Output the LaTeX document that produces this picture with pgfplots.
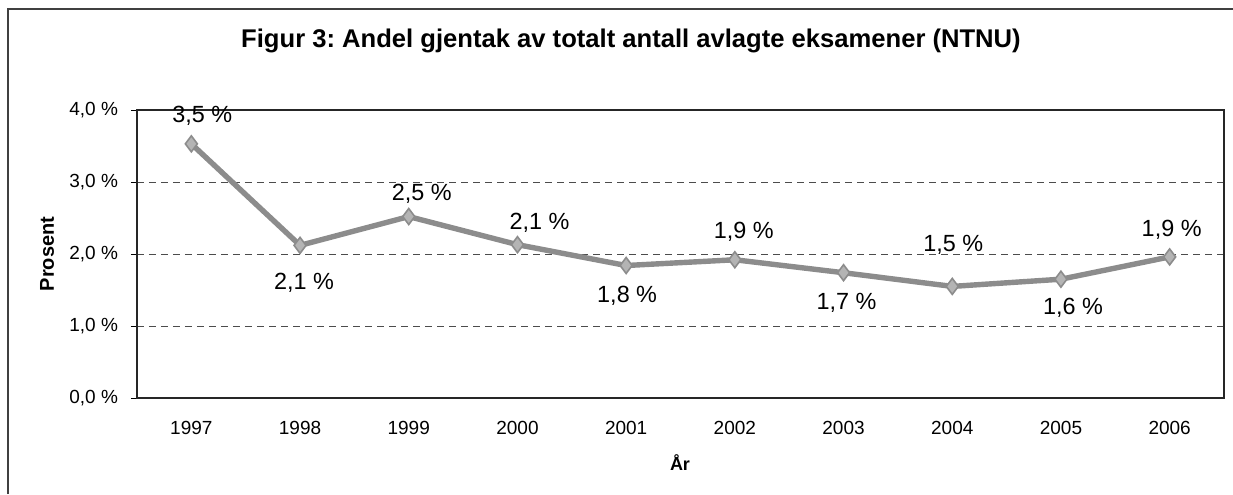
\documentclass[border=0pt]{standalone}
\usepackage{pgfplots}
\pgfplotsset{compat=1.18}
\usepackage{pgfplotstable}
\usepackage{fontspec}
\setmainfont{Liberation Sans}
\frenchspacing
\definecolor{linegray}{RGB}{140,140,140}
\definecolor{markgray}{RGB}{180,180,180}
\pgfplotstableread{
x y lbl dx dy
0 3.53 3,5 5.5 14
1 2.12 2,1 2 -18.5
2 2.52 2,5 6.5 11.5
3 2.13 2,1 11 11
4 1.84 1,8 0.5 -15
5 1.92 1,9 4.5 14
6 1.74 1,7 1.5 -15
7 1.55 1,5 0.5 21
8 1.65 1,6 6 -14.5
9 1.96 1,9 1 13.5
}\datatable
\begin{document}
\begin{tikzpicture}[x=1pt,y=1pt]
\path[use as bounding box] (0,0) rectangle (616.5,247);
\draw[black!75, line width=0.8pt] (4,0) -- (4,242.5) -- (616.5,242.5);
\begin{axis}[
  at={(68.5pt,48pt)}, anchor=south west,
  scale only axis, width=543.5pt, height=144pt,
  xmin=-0.5, xmax=9.5, ymin=0, ymax=4,
  xtick={0,...,9},
  xticklabels={1997,1998,1999,2000,2001,2002,2003,2004,2005,2006},
  major x tick style={draw=none},
  extra x ticks={0.5,1.5,2.5,3.5,4.5,5.5,6.5,7.5,8.5},
  extra x tick labels={},
  extra x tick style={major tick length=3pt, tick style={black, line width=0.5pt}, xtick pos=bottom, xtick align=outside, grid=none},
  ytick={0,1,2,3,4},
  yticklabels={{0,0 \%},{1,0 \%},{2,0 \%},{3,0 \%},{4,0 \%}},
  ytick pos=left, ytick align=outside, major tick length=3pt,
  ymajorgrids,
  grid style={black!70, line width=0.5pt, dash pattern=on 3.5pt off 2.5pt},
  axis line style={black!85, line width=0.6pt},
  tick style={black, line width=0.5pt},
  ticklabel style={font=\fontsize{9.5}{11}\selectfont},
  yticklabel style={xshift=-3pt},
  xticklabel style={yshift=-8pt},
  clip=false,
]
\addplot[color=linegray, line width=2.7pt, mark=diamond*, mark size=4pt,
  mark options={fill=markgray, draw=linegray, line width=0.8pt},
  point meta=explicit symbolic,
  visualization depends on={\thisrow{dx} \as \mydx},
  visualization depends on={\thisrow{dy} \as \mydy},
  nodes near coords={\pgfplotspointmeta\ \%},
  every node near coord/.style={anchor=center, xshift=\mydx pt, yshift=\mydy pt, text=black, font=\fontsize{11.7}{13}\selectfont},
] table[x=x, y=y, meta=lbl] {\datatable};
\end{axis}
\node[anchor=base, font=\bfseries\fontsize{12.8}{15}\selectfont] at (315.5,223) {Figur 3: Andel gjentak av totalt antall avlagte eksamener (NTNU)};
\node[rotate=90, font=\bfseries\fontsize{10}{12}\selectfont] at (23.5,120) {Prosent};
\node[font=\bfseries\fontsize{9}{10}\selectfont] at (340,15.5) {År};
\end{tikzpicture}
\end{document}
